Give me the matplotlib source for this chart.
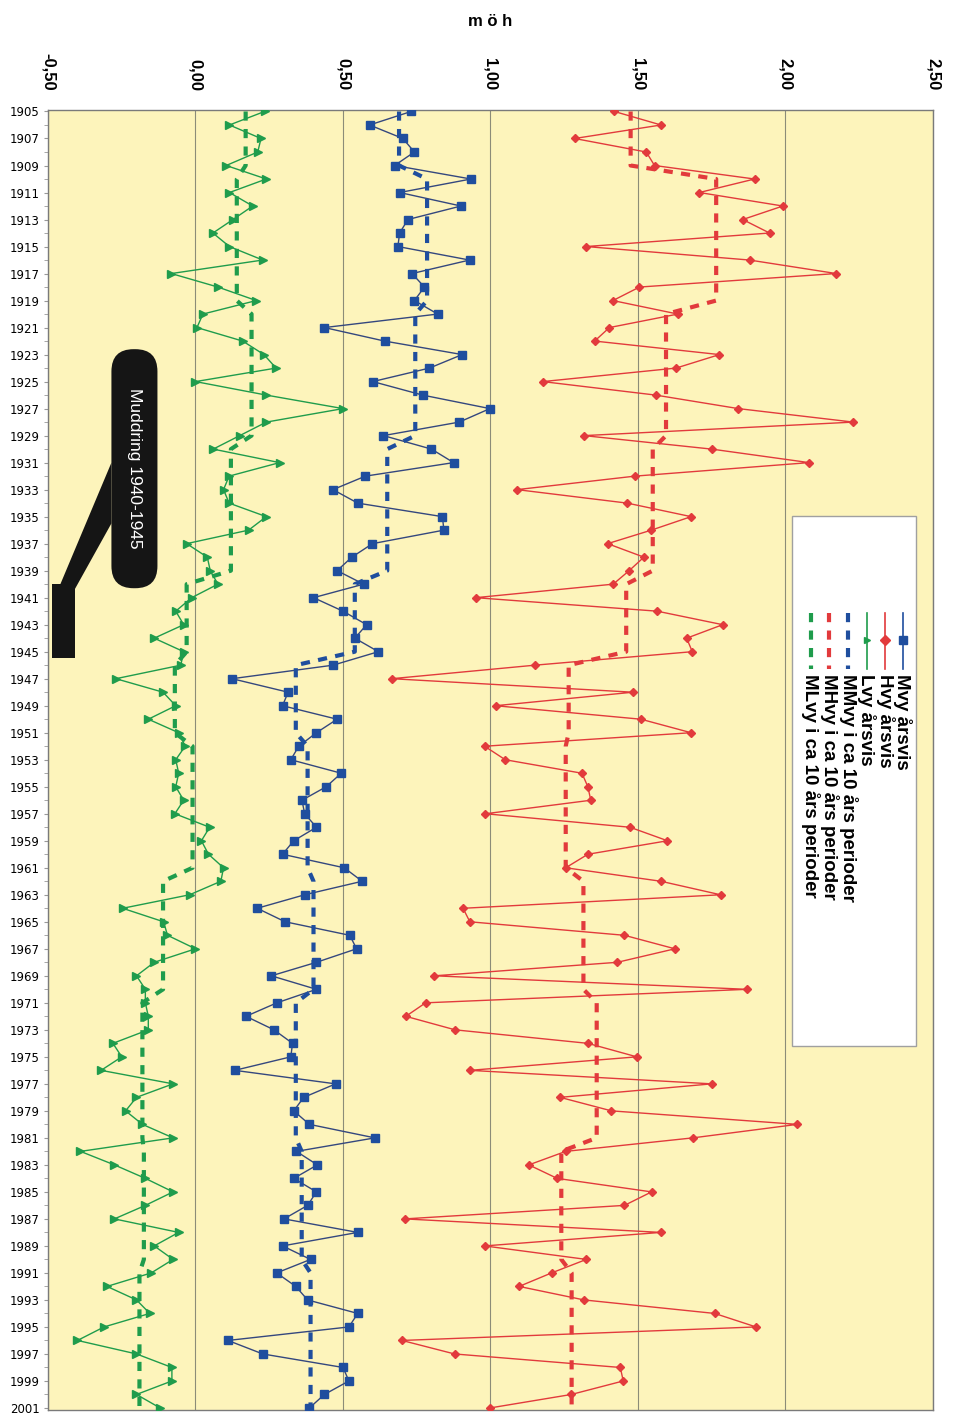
import numpy as np
import matplotlib
matplotlib.use("Agg")
import matplotlib.pyplot as plt
from matplotlib.patches import Rectangle, FancyBboxPatch, Polygon

# År 1905-2001
years = list(range(1905, 2002))

# Hvy årsvis (röd)
hvy = [1.42, 1.578, 1.285, 1.528, 1.556, 1.895, 1.708, 1.991, 1.855, 1.946,
       1.324, 1.878, 2.172, 1.505, 1.415, 1.635, 1.403, 1.353, 1.776, 1.629,
       1.177, 1.56, 1.84, 2.23, 1.317, 1.75, 2.08, 1.49, 1.09, 1.464,
       1.68, 1.545, 1.397, 1.52, 1.47, 1.416, 0.95, 1.565, 1.787, 1.665,
       1.684, 1.15, 0.665, 1.483, 1.017, 1.51, 1.68, 0.98, 1.05, 1.31,
       1.33, 1.34, 0.983, 1.473, 1.60, 1.33, 1.255, 1.578, 1.78, 0.907,
       0.93, 1.454, 1.625, 1.43, 0.81, 1.87, 0.78, 0.713, 0.88, 1.33,
       1.496, 0.93, 1.75, 1.236, 1.41, 2.04, 1.686, 1.255, 1.13, 1.226,
       1.546, 1.454, 0.709, 1.578, 0.98, 1.325, 1.207, 1.097, 1.317, 1.76,
       1.9, 0.70, 0.878, 1.44, 1.45, 1.274, 0.998]

# Mvy årsvis (blå)
mvy = [0.731, 0.59, 0.703, 0.742, 0.675, 0.934, 0.692, 0.90, 0.72, 0.692,
       0.686, 0.929, 0.734, 0.776, 0.742, 0.821, 0.437, 0.641, 0.904, 0.793,
       0.601, 0.77, 0.998, 0.894, 0.637, 0.80, 0.875, 0.576, 0.466, 0.55,
       0.837, 0.842, 0.60, 0.53, 0.48, 0.57, 0.40, 0.50, 0.58, 0.54,
       0.62, 0.466, 0.124, 0.314, 0.295, 0.48, 0.41, 0.35, 0.323, 0.494,
       0.443, 0.361, 0.37, 0.41, 0.333, 0.295, 0.504, 0.565, 0.37, 0.209,
       0.304, 0.523, 0.546, 0.41, 0.257, 0.41, 0.276, 0.171, 0.266, 0.329,
       0.323, 0.133, 0.475, 0.367, 0.333, 0.386, 0.608, 0.342, 0.413, 0.333,
       0.41, 0.38, 0.30, 0.55, 0.295, 0.39, 0.275, 0.34, 0.38, 0.55,
       0.52, 0.11, 0.228, 0.50, 0.52, 0.437, 0.386]

# Lvy årsvis (grön)
lvy = [0.234, 0.115, 0.222, 0.211, 0.104, 0.24, 0.115, 0.194, 0.127, 0.059,
       0.115, 0.228, -0.082, 0.076, 0.206, 0.025, 0.005, 0.16, 0.232, 0.273,
       0.0, 0.24, 0.50, 0.24, 0.15, 0.06, 0.285, 0.114, 0.095, 0.114,
       0.24, 0.18, -0.03, 0.04, 0.05, 0.076, -0.013, -0.067, -0.04, -0.14,
       -0.04, -0.05, -0.27, -0.11, -0.067, -0.16, -0.057, -0.035, -0.067, -0.057,
       -0.067, -0.04, -0.07, 0.048, 0.02, 0.044, 0.095, 0.086, -0.02, -0.247,
       -0.108, -0.095, 0.0, -0.14, -0.2, -0.17, -0.17, -0.16, -0.16, -0.28,
       -0.25, -0.32, -0.076, -0.2, -0.237, -0.18, -0.076, -0.39, -0.275, -0.17,
       -0.076, -0.17, -0.275, -0.057, -0.14, -0.076, -0.15, -0.30, -0.2, -0.155,
       -0.31, -0.40, -0.2, -0.08, -0.08, -0.2, -0.12]

# Medelvärden i ca 10 års perioder
period_start = [1905, 1910, 1920, 1930, 1940, 1946, 1952, 1962, 1971, 1982, 1991]
period_end = [1909, 1919, 1929, 1939, 1945, 1951, 1961, 1970, 1981, 1990, 2001]
mhvy = [1.475, 1.765, 1.595, 1.55, 1.46, 1.265, 1.255, 1.315, 1.36, 1.24, 1.275]
mmvy = [0.69, 0.785, 0.745, 0.65, 0.54, 0.34, 0.38, 0.40, 0.34, 0.36, 0.39]
mlvy = [0.17, 0.14, 0.19, 0.12, -0.03, -0.07, -0.01, -0.11, -0.18, -0.175, -0.19]

x_ticks = [-0.5, 0.0, 0.5, 1.0, 1.5, 2.0, 2.5]
x_ticklabels = ["-0,50", "0,00", "0,50", "1,00", "1,50", "2,00", "2,50"]

legend_labels = ["Mvy årsvis", "Hvy årsvis", "Lvy årsvis",
                 "MMvy i ca 10 års perioder", "MHvy i ca 10 års perioder",
                 "MLvy i ca 10 års perioder"]

RED = "#e23a3c"
BLUE = "#1f4e9e"
BLUE_LINE = "#34477e"
GREEN = "#1f9c4c"


def expand(values):
    """periodvärden -> ett värde per år"""
    lengths = [e - s + 1 for s, e in zip(period_start, period_end)]
    return np.repeat(values, lengths)


fig = plt.figure(figsize=(9.54, 14.15), dpi=100)
ax = fig.add_axes([48 / 954, 5 / 1415, 885 / 954, 1300 / 1415])
ax.set_facecolor("#fdf4bb")

# Årsvisa serier
ax.plot(mvy, years, color=BLUE_LINE, lw=1.0, marker="s", ms=6,
        mfc=BLUE, mec=BLUE, zorder=3)
ax.plot(hvy, years, color=RED, lw=1.0, marker="D", ms=4.5,
        mfc=RED, mec=RED, zorder=3)
ax.plot(lvy, years, color=GREEN, lw=1.0, marker=">", ms=5.5,
        mfc=GREEN, mec=GREEN, zorder=3)

# 10-årsmedel, streckade
dash = (0, (2.2, 2.0))
ax.plot(expand(mmvy), years, color=BLUE, lw=3, ls=dash, zorder=4)
ax.plot(expand(mhvy), years, color=RED, lw=3, ls=dash, zorder=4)
ax.plot(expand(mlvy), years, color=GREEN, lw=3, ls=dash, zorder=4)

ax.set_xlim(-0.5, 2.5)
ax.set_ylim(2001.15, 1904.89)

ax.xaxis.tick_top()
ax.set_xticks(x_ticks)
ax.set_xticklabels(x_ticklabels, rotation=-90, fontsize=12,
                   fontweight="bold", family="Liberation Sans")
ax.tick_params(axis="x", length=0, pad=14)
ax.grid(axis="x", color="#8c8c78", lw=0.8)
ax.set_axisbelow(True)

ax.set_yticks(years[::2])
ax.set_yticklabels([str(y) for y in years[::2]], fontsize=8.5)
ax.set_yticks(years, minor=True)
ax.tick_params(axis="y", which="both", length=3, color="#999999", pad=3)

for spine in ax.spines.values():
    spine.set_color("#7a7a7a")
    spine.set_linewidth(1.0)

fig.text(0.514, 0.985, "m ö h", ha="center", va="center", fontsize=12,
         fontweight="bold", family="Liberation Sans")

# Muddring 1940-1945
box = FancyBboxPatch((-0.285, 1922.6), 0.156, 17.7,
                     boxstyle="round,pad=0,rounding_size=0.075",
                     mutation_aspect=22, fc="#151515", ec="none", zorder=6)
ax.add_patch(box)
ax.add_patch(Polygon([(-0.285, 1931.0), (-0.285, 1935.5), (-0.42, 1940.8),
                      (-0.46, 1940.1)], closed=True, fc="#151515", ec="none",
                     zorder=6))
ax.add_patch(Rectangle((-0.488, 1940.0), 0.078, 5.5, fc="#151515",
                       ec="none", zorder=6))
ax.text(-0.207, 1931.4, "Muddring 1940-1945", rotation=-90, color="white",
        ha="center", va="center", fontsize=12.5,
        family="Liberation Sans", zorder=7)

# Förklaring (roterad)
ax.add_patch(Rectangle((0.841, 0.280), 0.140, 0.408, transform=ax.transAxes,
                       fc="white", ec="#a0a0a0", lw=1.0, zorder=6))
leg_x = [0.966, 0.946, 0.925, 0.904, 0.883, 0.862]
leg_colors = [BLUE, RED, GREEN, BLUE, RED, GREEN]
leg_markers = ["s", "D", ">", None, None, None]
for i in range(6):
    x = leg_x[i]
    if i < 3:
        ax.plot([x, x], [0.613, 0.570], transform=ax.transAxes,
                color=leg_colors[i], lw=1.2, marker=None, zorder=7)
        ax.plot([x], [0.592], transform=ax.transAxes, color=leg_colors[i],
                marker=leg_markers[i], ms=6 if i == 0 else 5, zorder=7)
    else:
        ax.plot([x, x], [0.613, 0.570], transform=ax.transAxes,
                color=leg_colors[i], lw=3, ls=(0, (2.2, 2.0)), zorder=7)
    ax.text(x, 0.566, legend_labels[i], transform=ax.transAxes,
            rotation=-90, ha="center", va="top", fontsize=13.5,
            fontweight="bold", family="Liberation Sans", zorder=7)

fig.savefig("out.png", dpi=100, facecolor="white")
